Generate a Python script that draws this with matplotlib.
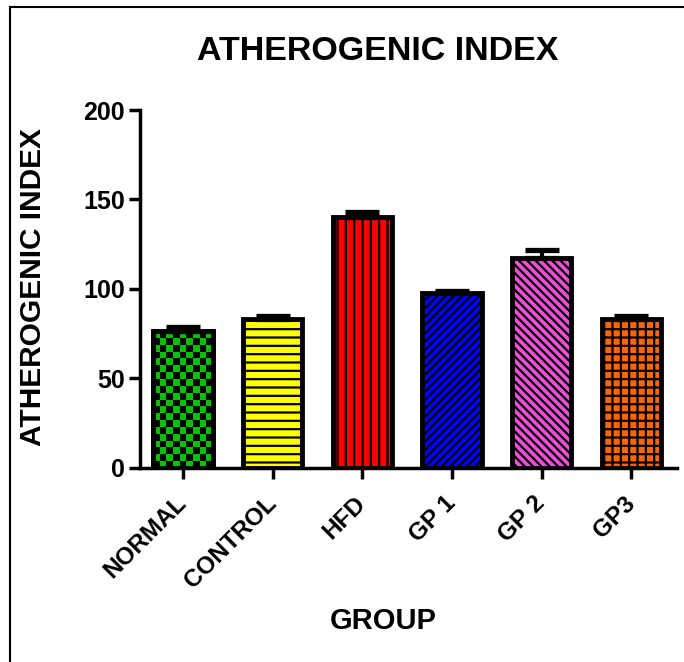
import numpy as np
import matplotlib
matplotlib.use('Agg')
import matplotlib.pyplot as plt
from matplotlib.patches import Rectangle
from matplotlib.colors import ListedColormap

# ---------------------------------------------------------------- data
groups = ['NORMAL', 'CONTROL', 'HFD', 'GP 1', 'GP 2', 'GP3']
values = [76.5, 83.2, 140.2, 97.7, 117.3, 83.4]
errors = [2.0, 1.5, 3.0, 1.2, 4.5, 1.2]
colors = ['#00C000', '#FFFF00', '#FF0000', '#0000FF', '#F050D8', '#FF6600']
hatches = [None, '--', '||', '////', '\\\\\\\\', '++']

plt.rcParams['font.family'] = ['Liberation Sans', 'DejaVu Sans']
plt.rcParams['font.weight'] = 'bold'
plt.rcParams['hatch.linewidth'] = 1.6

fig = plt.figure(figsize=(6.84, 6.62), dpi=100)
ax = fig.add_axes([140/684, 1 - 467.7/662, (677 - 140)/684, (467.7 - 110)/662])

x = np.arange(len(groups))
bars = ax.bar(x, values, width=0.66, color=colors, edgecolor='black',
              linewidth=3.5, zorder=2)
for b, h in zip(bars, hatches):
    if h:
        b.set_hatch(h)

# checkerboard for NORMAL (matplotlib has no checker hatch)
b0 = bars[0]
nx, ny = 9, 20
checker = np.indices((ny, nx)).sum(axis=0) % 2
img = ax.imshow(checker, cmap=ListedColormap(['black', colors[0]]),
                extent=[b0.get_x(), b0.get_x() + b0.get_width(), 0, values[0]],
                aspect='auto', origin='lower', zorder=2.5, interpolation='nearest')
img.set_clip_path(b0)
ax.bar(x[:1], values[:1], width=0.66, color='none', edgecolor='black',
       linewidth=3.5, zorder=3)

ax.errorbar(x, values, yerr=[np.zeros(len(values)), errors], fmt='none',
            ecolor='black', elinewidth=3, capsize=12.5, capthick=3.8, zorder=4)

ax.set_xlim(-0.48, 5.51)
ax.set_ylim(0, 200)
ax.set_yticks([0, 50, 100, 150, 200])
ax.set_xticks(x)
ax.set_xticklabels(groups, rotation=45, ha='right', va='center',
                   rotation_mode='anchor', fontsize=17.5)
ax.tick_params(axis='y', labelsize=18, width=2.5, length=8, pad=3)
ax.tick_params(axis='x', width=2.5, length=8, pad=15)
for s in ['top', 'right']:
    ax.spines[s].set_visible(False)
for s in ['left', 'bottom']:
    ax.spines[s].set_linewidth(2.5)

fig.text(378/684, 1 - 52/662, 'ATHEROGENIC INDEX', ha='center', va='center',
         fontsize=24.5, fontweight='bold')
fig.text(383/684, 1 - 621/662, 'GROUP', ha='center', va='center',
         fontsize=21, fontweight='bold')
fig.text(33/684, 1 - 287/662, 'ATHEROGENIC INDEX', ha='center', va='center',
         rotation=90, fontsize=21.5, fontweight='bold')

# outer frame
fig.patches.append(Rectangle((10/684, -0.1), 1.2, 1.1 - 7/662,
                             transform=fig.transFigure, fill=False,
                             edgecolor='black', linewidth=1.5))

fig.savefig('out.png', dpi=100)
